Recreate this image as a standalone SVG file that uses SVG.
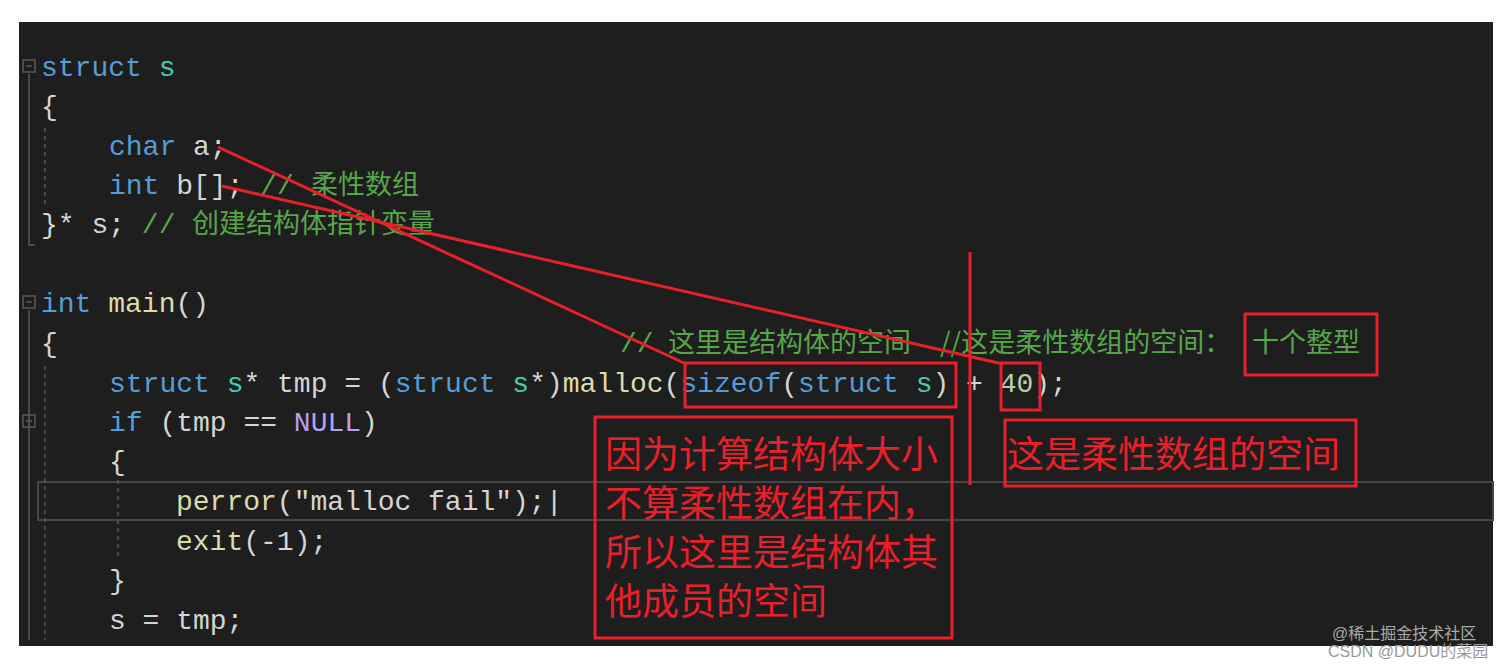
<svg xmlns="http://www.w3.org/2000/svg" width="1512" height="664" viewBox="0 0 1512 664">
<style>
.c{font-family:"Liberation Mono","DejaVu Sans Mono","Noto Sans CJK SC",monospace;font-size:28px;fill:#d4d4d4;white-space:pre}
.k{fill:#569cd6}.t{fill:#4ec9b0}.f{fill:#dcdcaa}.g{fill:#57a64a}.n{fill:#b5cea8}.p{fill:#b8a0f0}
.cm{font-family:"Noto Sans CJK SC",sans-serif;fill:#57a64a;font-size:27px}
.r{fill:none;stroke:#e8202a;stroke-width:3}
.rt{font-family:"Noto Sans CJK SC",serif;font-size:37px;fill:#e8202a}
.gd{stroke:#5a5a5a;stroke-width:1.5;fill:none}
</style>
<rect width="1512" height="664" fill="#fff"/>
<rect x="19" y="22" width="1474" height="624" fill="#1e1e1e"/>
<rect x="38" y="482" width="1455" height="38" fill="none" stroke="#464646" stroke-width="2"/>
<g id="guides">
<rect x="23" y="60" width="12" height="12" class="gd"/><line x1="26" y1="66" x2="32" y2="66" class="gd"/>
<rect x="23" y="296" width="12" height="12" class="gd"/><line x1="26" y1="302" x2="32" y2="302" class="gd"/>
<rect x="23" y="415" width="12" height="12" class="gd"/><line x1="26" y1="421" x2="32" y2="421" class="gd"/>
<polyline points="29,74 29,245 35,245" class="gd"/>
<line x1="29" y1="310" x2="29" y2="640" class="gd"/>
<line x1="45" y1="128" x2="45" y2="206" class="gd" stroke-dasharray="4,4"/>
<line x1="45" y1="366" x2="45" y2="640" class="gd" stroke-dasharray="4,4"/>
<line x1="118" y1="480" x2="118" y2="560" class="gd" stroke-dasharray="4,4"/>
</g>
<g id="code" class="c">
<text x="41" y="76"><tspan class="k">struct</tspan> <tspan class="t">s</tspan></text>
<text x="41" y="115">{</text>
<text x="109" y="155"><tspan class="k">char</tspan> a;</text>
<text x="109" y="194"><tspan class="k">int</tspan> b[]; <tspan class="g">//</tspan></text>
<text x="311" y="194" class="cm">柔性数组</text>
<text x="41" y="233">}* s; <tspan class="g">//</tspan></text>
<text x="192" y="233" class="cm">创建结构体指针变量</text>
<text x="41" y="312"><tspan class="k">int</tspan> <tspan class="f">main</tspan>()</text>
<text x="41" y="352">{</text>
<text x="620" y="352" class="g">//</text>
<text x="668" y="352" class="cm">这里是结构体的空间</text>
<text x="940" y="352" class="cm">//这是柔性数组的空间：</text>
<text x="1252" y="352" class="cm">十个整型</text>
<text x="109" y="392"><tspan class="k">struct</tspan> <tspan class="t">s</tspan>* tmp = (<tspan class="k">struct</tspan> <tspan class="t">s</tspan>*)<tspan class="f">malloc</tspan>(<tspan class="k">sizeof</tspan>(<tspan class="k">struct</tspan> <tspan class="t">s</tspan>) + <tspan class="n">40</tspan>);</text>
<text x="109" y="431"><tspan class="k">if</tspan> (tmp == <tspan class="p">NULL</tspan>)</text>
<text x="109" y="470">{</text>
<text x="176" y="510"><tspan class="f">perror</tspan>("malloc fail");|</text>
<text x="176" y="550"><tspan class="f">exit</tspan>(-1);</text>
<text x="109" y="589">}</text>
<text x="109" y="629">s = tmp;</text>
</g>
<g id="connectors">
<line x1="218" y1="147" x2="686" y2="364" class="r"/>
<line x1="222" y1="186" x2="1003" y2="364" class="r"/>
<line x1="970" y1="252" x2="970" y2="485" class="r"/>
</g>
<g id="boxes">
<rect x="685" y="363" width="271" height="44" class="r"/>
<rect x="1001" y="363" width="39" height="47" class="r"/>
<rect x="1245" y="314" width="132" height="61" class="r"/>
<rect x="595" y="417" width="357" height="221" class="r"/>
<rect x="1005" y="420" width="351" height="66" class="r"/>
<text x="605" y="468" class="rt">因为计算结构体大小</text>
<text x="605" y="517" class="rt">不算柔性数组在内，</text>
<text x="605" y="566" class="rt">所以这里是结构体其</text>
<text x="605" y="615" class="rt">他成员的空间</text>
<text x="1007" y="468" class="rt">这是柔性数组的空间</text>
</g>
<g font-family="Liberation Sans,Noto Sans CJK SC,sans-serif" font-size="16">
<text x="1332" y="639" fill="#aaa">@稀土掘金技术社区</text>
<text x="1328" y="657" fill="#999">CSDN @DUDU的菜园</text>
</g>
</svg>
